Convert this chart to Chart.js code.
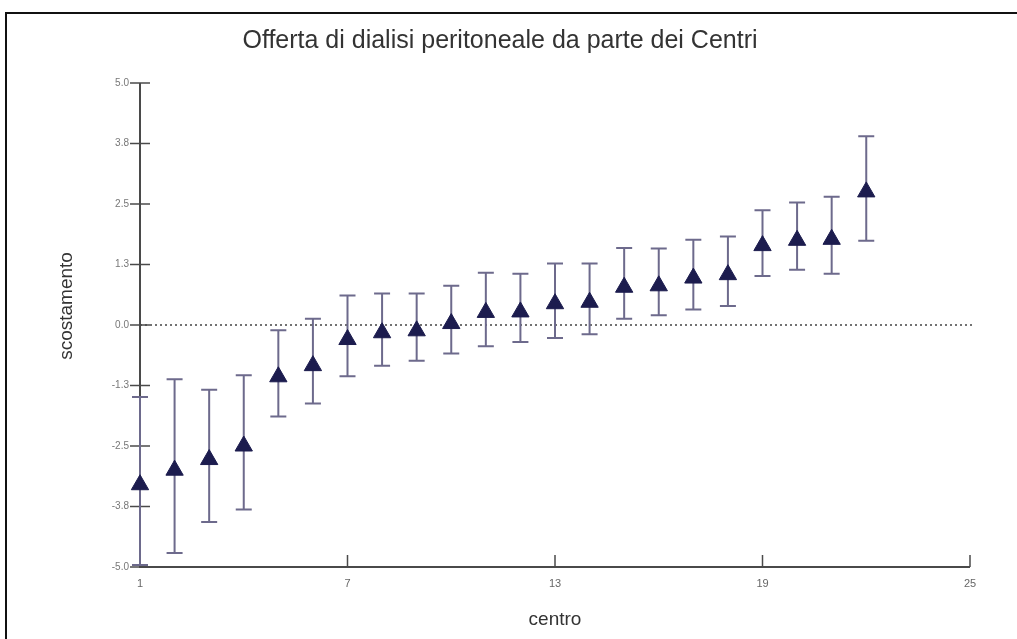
<!DOCTYPE html>
<html>
<head>
<meta charset="utf-8">
<title>Offerta di dialisi peritoneale da parte dei Centri</title>
<script src="https://cdn.jsdelivr.net/npm/chart.js@4.4.1/dist/chart.umd.min.js"></script>
<style>
    html, body { margin: 0; padding: 0; background: #fff; }
    #wrap { width: 1017px; height: 639px; position: relative; }
</style>
</head>
<body>
<div id="wrap"><canvas id="chart" width="1017" height="639"></canvas></div>
<script>
(function () {
    'use strict';

    // Data
    var centro = [1, 2, 3, 4, 5, 6, 7, 8, 9, 10, 11, 12, 13, 14, 15, 16, 17, 18, 19, 20, 21, 22];
    var scostamento = [-3.30, -3.00, -2.78, -2.50, -1.07, -0.84, -0.30, -0.16, -0.12, 0.03, 0.26,
        0.27, 0.44, 0.47, 0.78, 0.81, 0.97, 1.04, 1.64, 1.75, 1.77, 2.75];
    var limiteSup = [-1.49, -1.12, -1.34, -1.04, -0.11, 0.13, 0.61, 0.65, 0.65, 0.81, 1.08,
        1.06, 1.27, 1.27, 1.59, 1.58, 1.76, 1.83, 2.37, 2.53, 2.65, 3.90];
    var limiteInf = [-4.96, -4.71, -4.07, -3.81, -1.89, -1.62, -1.06, -0.84, -0.74, -0.59, -0.44,
        -0.35, -0.27, -0.19, 0.13, 0.20, 0.32, 0.39, 1.01, 1.14, 1.06, 1.74];

    var xTicks = [1, 7, 13, 19, 25];
    var xTickLabels = ['1', '7', '13', '19', '25'];
    var yTicks = [-5, -3.75, -2.5, -1.25, 0, 1.25, 2.5, 3.75, 5];
    var yTickLabels = ['-5.0', '-3.8', '-2.5', '-1.3', '0.0', '1.3', '2.5', '3.8', '5.0'];

    var titolo = 'Offerta di dialisi peritoneale da parte dei Centri';
    var titoloX = 'centro';
    var titoloY = 'scostamento';

    var FONT = '"Liberation Sans", Arial, sans-serif';
    var AXIS_COLOR = '#4a4a4a';
    var BAR_COLOR = '#6d6a8c';
    var MARK_COLOR = '#1c1c4e';

    var points = centro.map(function (c, i) {
        return { x: c, y: scostamento[i] };
    });

    /**
     * Frame, axes, zero line, error bars and texts.
     */
    var decorPlugin = {
        id: 'decor',
        beforeDraw: function (chart) {
            var ctx = chart.ctx;
            ctx.save();
            ctx.strokeStyle = '#111';
            ctx.lineWidth = 2;
            ctx.beginPath();
            ctx.moveTo(6, 639);
            ctx.lineTo(6, 13);
            ctx.lineTo(1017, 13);
            ctx.stroke();
            ctx.restore();
        },
        beforeDatasetsDraw: function (chart) {
            var ctx = chart.ctx;
            var xs = chart.scales.x;
            var ys = chart.scales.y;
            var left = xs.getPixelForValue(xTicks[0]);
            var right = xs.getPixelForValue(xTicks[xTicks.length - 1]);
            var top = ys.getPixelForValue(yTicks[yTicks.length - 1]);
            var bottom = ys.getPixelForValue(yTicks[0]);

            ctx.save();

            // zero line
            ctx.strokeStyle = '#444';
            ctx.lineWidth = 1.3;
            ctx.setLineDash([2, 3]);
            ctx.beginPath();
            ctx.moveTo(left, ys.getPixelForValue(0));
            ctx.lineTo(right + 2, ys.getPixelForValue(0));
            ctx.stroke();
            ctx.setLineDash([]);

            // axes
            ctx.strokeStyle = AXIS_COLOR;
            ctx.lineWidth = 2;
            ctx.beginPath();
            ctx.moveTo(left, top);
            ctx.lineTo(left, bottom);
            ctx.lineTo(right, bottom);
            ctx.stroke();

            ctx.lineWidth = 1.5;
            yTicks.forEach(function (v) {
                var py = ys.getPixelForValue(v);
                ctx.beginPath();
                ctx.moveTo(left - 10, py);
                ctx.lineTo(left + 10, py);
                ctx.stroke();
            });
            xTicks.forEach(function (v) {
                var px = xs.getPixelForValue(v);
                ctx.beginPath();
                ctx.moveTo(px, bottom - 12);
                ctx.lineTo(px, bottom);
                ctx.stroke();
            });

            // error bars
            ctx.strokeStyle = BAR_COLOR;
            ctx.lineWidth = 2;
            centro.forEach(function (c, i) {
                var px = xs.getPixelForValue(c);
                var pHi = ys.getPixelForValue(limiteSup[i]);
                var pLo = ys.getPixelForValue(limiteInf[i]);
                ctx.beginPath();
                ctx.moveTo(px, pHi);
                ctx.lineTo(px, pLo);
                ctx.moveTo(px - 8, pHi);
                ctx.lineTo(px + 8, pHi);
                ctx.moveTo(px - 8, pLo);
                ctx.lineTo(px + 8, pLo);
                ctx.stroke();
            });

            ctx.restore();
        },
        afterDraw: function (chart) {
            var ctx = chart.ctx;
            var area = chart.chartArea;
            ctx.save();
            ctx.fillStyle = '#333';
            ctx.textAlign = 'center';
            ctx.textBaseline = 'middle';

            ctx.font = '25px ' + FONT;
            ctx.fillText(titolo, 500, 41);

            ctx.font = '19px ' + FONT;
            ctx.fillText(titoloX, (area.left + area.right) / 2, 620);

            ctx.translate(67, 306);
            ctx.rotate(-Math.PI / 2);
            ctx.fillText(titoloY, 0, 0);
            ctx.restore();
        }
    };

    new Chart(document.getElementById('chart'), {
        type: 'scatter',
        data: {
            datasets: [{
                label: titoloY,
                data: points,
                pointStyle: 'triangle',
                pointRadius: 10,
                pointHoverRadius: 10,
                backgroundColor: MARK_COLOR,
                borderColor: MARK_COLOR,
                borderWidth: 1,
                clip: false
            }]
        },
        options: {
            responsive: false,
            animation: false,
            devicePixelRatio: 1,
            layout: { padding: { left: 0, right: 47, top: 83, bottom: 0 } },
            plugins: {
                legend: { display: false },
                title: { display: false },
                tooltip: { enabled: false }
            },
            scales: {
                x: {
                    type: 'linear',
                    min: 1,
                    max: 25,
                    grid: { display: false, drawTicks: false },
                    border: { display: false },
                    afterBuildTicks: function (scale) {
                        scale.ticks = xTicks.map(function (v) { return { value: v }; });
                    },
                    afterFit: function (scale) { scale.height = 72; },
                    ticks: {
                        padding: 10,
                        color: '#666',
                        font: { family: FONT, size: 11 },
                        callback: function (v) {
                            var i = xTicks.indexOf(v);
                            return i >= 0 ? xTickLabels[i] : '';
                        }
                    }
                },
                y: {
                    type: 'linear',
                    min: -5,
                    max: 5,
                    grid: { display: false, drawTicks: false },
                    border: { display: false },
                    afterBuildTicks: function (scale) {
                        scale.ticks = yTicks.map(function (v) { return { value: v }; });
                    },
                    afterFit: function (scale) { scale.width = 140; },
                    ticks: {
                        padding: 11,
                        color: '#777',
                        font: { family: FONT, size: 10 },
                        callback: function (v) {
                            var i = yTicks.indexOf(v);
                            return i >= 0 ? yTickLabels[i] : '';
                        }
                    }
                }
            }
        },
        plugins: [decorPlugin]
    });
})();
</script>
</body>
</html>
